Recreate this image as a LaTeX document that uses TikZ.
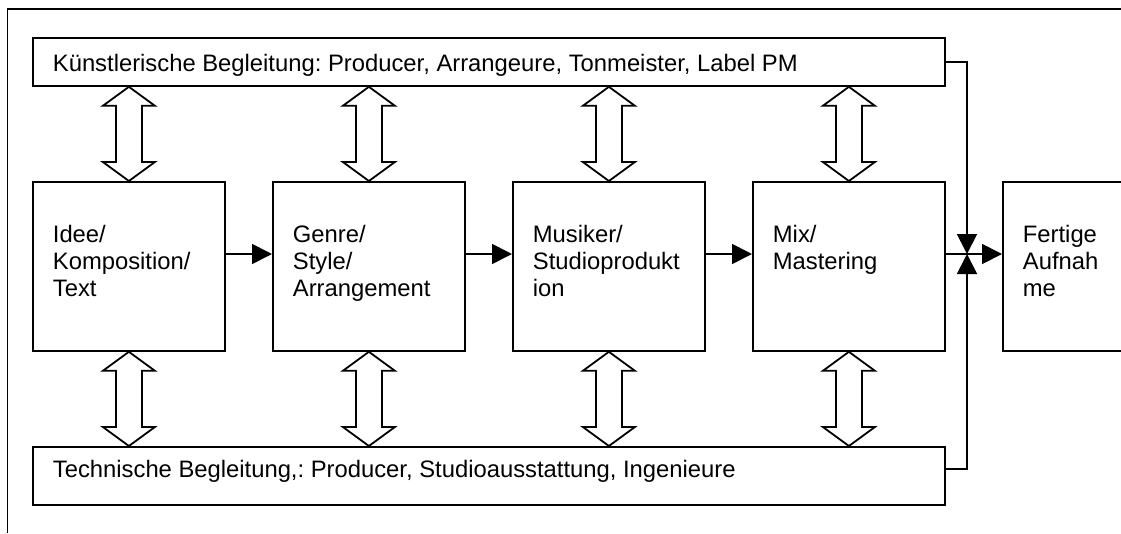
\documentclass[tikz,border=0pt]{standalone}
\usepackage{fontspec}
\setmainfont{Liberation Sans}
\usetikzlibrary{arrows.meta,calc}
\frenchspacing

% hollow two-headed arrow between an upper point #1 and a lower point #2
\newcommand\hollowarrow[2]{%
  \draw[hollow] let \p1=(#1), \p2=(#2) in
    (\x1,\y1) -- ++(26pt,-19pt) -- ++(-13pt,0pt) -- (\x1+13pt,\y2+19pt)
    -- ++(13pt,0pt) -- (\x2,\y2) -- ++(-26pt,19pt) -- ++(13pt,0pt)
    -- (\x1-13pt,\y1-19pt) -- ++(-13pt,0pt) -- cycle;}

\begin{document}
\begin{tikzpicture}[x=1pt,y=-1pt,line width=1.8pt,
  box/.style={draw,inner sep=0pt,anchor=north west,minimum width=192pt,minimum height=169pt},
  band/.style={draw,inner sep=0pt,anchor=north west,minimum width=912pt},
  lbl/.style={inner sep=0pt,anchor=base west,font=\fontsize{23.8}{27.4}\selectfont},
  flow/.style={-{Triangle[length=20pt,width=20pt]}},
  hollow/.style={draw,fill=white,line join=miter}]

\useasboundingbox (0,0) rectangle (1121,533);
\clip (0,0) rectangle (1121,533);

% outer frame
\draw (7.5,533) -- (7.5,9) -- (1121,9);

% support bands
\node[band,minimum height=48pt] (kb) at (32,37) {};
\node[lbl] at ($(kb.north west)+(20,34)$) {Künstlerische Begleitung: Producer, Arrangeure, Tonmeister, Label PM};
\node[band,minimum height=58pt] (tb) at (32,446) {};
\node[lbl] at ($(tb.north west)+(20,31)$) {Technische Begleitung,: Producer, Studioausstattung, Ingenieure};

% production stages
\node[box] (b1) at (32,181) {};
\node[box] (b2) at (272,181) {};
\node[box] (b3) at (512,181) {};
\node[box] (b4) at (752,181) {};
\node[box] (b5) at (1002,181) {};

\node[lbl] at ($(b1.north west)+(20,61)$) {\begin{tabular}[t]{@{}l@{}}Idee/\\Komposition/\\Text\end{tabular}};
\node[lbl] at ($(b2.north west)+(20,61)$) {\begin{tabular}[t]{@{}l@{}}Genre/\\Style/\\Arrangement\end{tabular}};
\node[lbl] at ($(b3.north west)+(20,61)$) {\begin{tabular}[t]{@{}l@{}}Musiker/\\Studioprodukt\\ion\end{tabular}};
\node[lbl] at ($(b4.north west)+(20,61)$) {\begin{tabular}[t]{@{}l@{}}Mix/\\Mastering\end{tabular}};
\node[lbl] at ($(b5.north west)+(20,61)$) {\begin{tabular}[t]{@{}l@{}}Fertige\\Aufnah\\me\end{tabular}};

% two-way links to the bands
\foreach \b in {b1,b2,b3,b4}{
  \hollowarrow{\b.north |- kb.south}{\b.north}
  \hollowarrow{\b.south}{\b.south |- tb.north}
}

% main flow
\coordinate (flowrow) at (0,254);
\coordinate (jn) at (967,254);
\coordinate (tbout) at (944,469);
\draw[flow] (b1.east |- flowrow) -- (b2.west |- flowrow);
\draw[flow] (b2.east |- flowrow) -- (b3.west |- flowrow);
\draw[flow] (b3.east |- flowrow) -- (b4.west |- flowrow);
\draw[flow] (b4.east |- flowrow) -- (b5.west |- flowrow);
\draw[flow] (kb.east) -| (jn);
\draw[flow] (tbout) -| (jn);
\end{tikzpicture}
\end{document}
